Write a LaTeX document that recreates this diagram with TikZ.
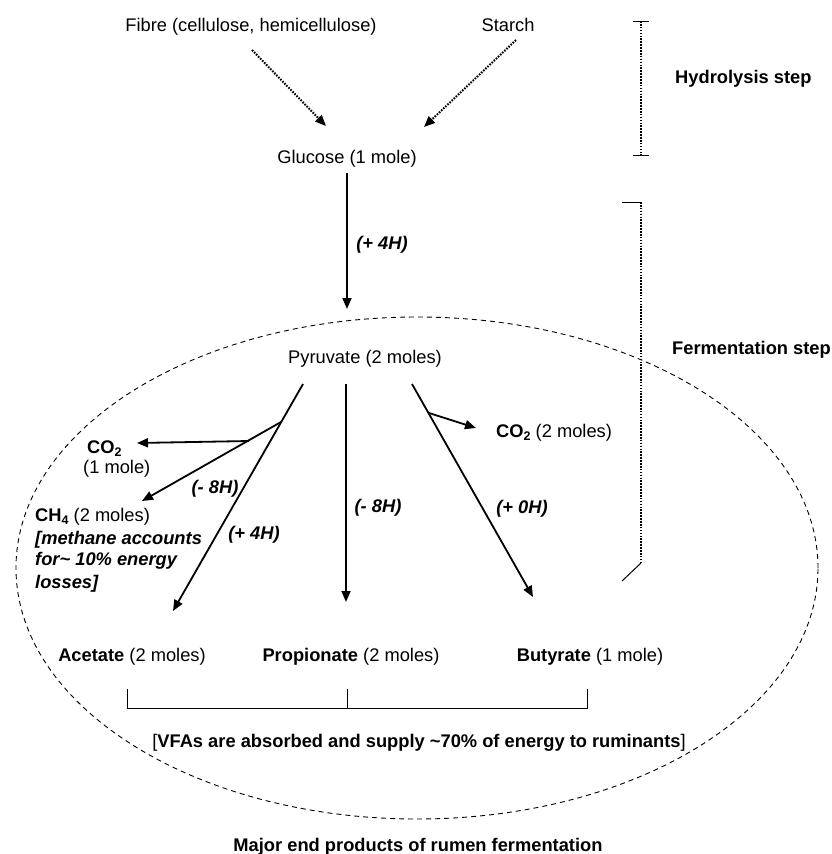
\documentclass[tikz,border=0pt]{standalone}
\usepackage{fontspec}
\setmainfont{Liberation Sans}
\usetikzlibrary{arrows.meta}
\newcommand{\mysub}[1]{\raisebox{-0.32ex}{\fontsize{12.5}{12.5}\selectfont #1}}
\begin{document}
\begin{tikzpicture}[x=1pt,y=-1pt,
  basetext/.style={inner sep=0pt,font=\fontsize{18.3}{22}\selectfont},
  ctext/.style={basetext,anchor=base},
  ltext/.style={basetext,anchor=base west},
  hlab/.style={inner sep=0pt,anchor=base,font=\fontsize{18.3}{22}\selectfont\bfseries\itshape},
  mainarrow/.style={line width=1.8pt,-{Triangle[length=11pt,width=9pt]}},
  dotarrow/.style={line width=2pt,dash pattern=on 1.6pt off 1.3pt,-{Triangle[length=11pt,width=9pt]}},
  dotbar/.style={line width=2pt,dash pattern=on 1.6pt off 1.3pt},
  thinline/.style={line width=1pt},
  rumen/.style={line width=0.9pt,dash pattern=on 5pt off 4pt}
]
\useasboundingbox (0,0) rectangle (832,854);

% rumen ellipse
\draw[rumen] (417,568) ellipse [x radius=401pt, y radius=251pt];

% texts
\node[ctext] (fibre) at (251,31) {Fibre (cellulose, hemicellulose)};
\node[ctext] (starch) at (508,31) {Starch};
\node[ctext] (glucose) at (347,163) {Glucose (1 mole)};
\node[ctext] (pyruvate) at (365,363) {Pyruvate (2 moles)};
\node[ltext] (hydro) at (675,83) {\bfseries Hydrolysis step};
\node[ltext] (ferm) at (672,354) {\bfseries Fermentation step};

\node[ltext] (co2r) at (496,437) {{\bfseries CO\mysub{2}} (2 moles)};
\node[ltext] (co2l) at (87,453) {\bfseries CO\mysub{2}};
\node[ltext] (co2lm) at (83,473) {(1 mole)};
\node[ltext] (ch4) at (35,521) {{\bfseries CH\mysub{4}} (2 moles)};
\node[ltext] (meth1) at (35,544) {\bfseries\itshape [methane accounts};
\node[ltext] (meth2) at (35,565) {\bfseries\itshape for\char"7E{} 10\% energy};
\node[ltext] (meth3) at (35,588) {\bfseries\itshape losses]};

\node[ctext] (acetate) at (132,661) {{\bfseries Acetate} (2 moles)};
\node[ctext] (propionate) at (351,661) {{\bfseries Propionate} (2 moles)};
\node[ctext] (butyrate) at (590,661) {{\bfseries Butyrate} (1 mole)};
\node[ctext] (vfa) at (419,747) {[{\bfseries VFAs are absorbed and supply \char"7E 70\% of energy to ruminants}]};
\node[ctext] (major) at (418,851) {\bfseries Major end products of rumen fermentation};

% H labels
\node[hlab] (h1) at (382,249) {(+ 4H)};
\node[hlab] (h2) at (215,493) {(- 8H)};
\node[hlab] (h3) at (254,539) {(+ 4H)};
\node[hlab] (h4) at (378,512) {(- 8H)};
\node[hlab] (h5) at (522,513) {(+ 0H)};

% connector coordinates
\coordinate (fibreS) at (252,50);
\coordinate (fibreE) at (326,126);
\coordinate (starchS) at (516,40);
\coordinate (starchE) at (424,127);
\coordinate (glucS) at (347,173);
\coordinate (pyrIn) at (347,309);
\coordinate (acS) at (303,384);
\coordinate (acE) at (173,611);
\coordinate (branch) at (281,422);
\coordinate (ch4E) at (142,501);
\coordinate (co2lS) at (249,441);
\coordinate (co2lE) at (137,443);
\coordinate (prS) at (346,384);
\coordinate (prE) at (346,602);
\coordinate (buS) at (412,384);
\coordinate (buE) at (533,597);
\coordinate (co2rS) at (429,413);
\coordinate (co2rE) at (476,428);

% hydrolysis arrows
\draw[dotarrow] (fibreS) -- (fibreE);
\draw[dotarrow] (starchS) -- (starchE);

% fermentation arrows
\draw[mainarrow] (glucS) -- (pyrIn);
\draw[mainarrow] (acS) -- (acE);
\draw[mainarrow] (branch) -- (ch4E);
\draw[mainarrow] (co2lS) -- (co2lE);
\draw[mainarrow] (prS) -- (prE);
\draw[mainarrow] (buS) -- (buE);
\draw[mainarrow] (co2rS) -- (co2rE);

% step bars
\coordinate (hT) at (641,21);
\coordinate (hB) at (641,155);
\draw[thinline] (633,21) -- (649,21);
\draw[thinline] (633,155) -- (649,155);
\draw[dotbar] (hT) -- (hB);

\coordinate (fT) at (641,202);
\coordinate (fB) at (641,563);
\coordinate (fTick) at (622,202);
\coordinate (fEnd) at (622,581);
\draw[thinline] (fTick) -- (fT);
\draw[dotbar] (fT) -- (fB);
\draw[thinline] (fB) -- (fEnd);

% bracket under VFAs
\coordinate (bL) at (127,689);
\coordinate (bM) at (347,689);
\coordinate (bR) at (587,689);
\draw[thinline] (bL) -- (127,708) -- (587,708) -- (bR);
\draw[line width=0.8pt] (bM) -- (347,708);
\end{tikzpicture}
\end{document}
